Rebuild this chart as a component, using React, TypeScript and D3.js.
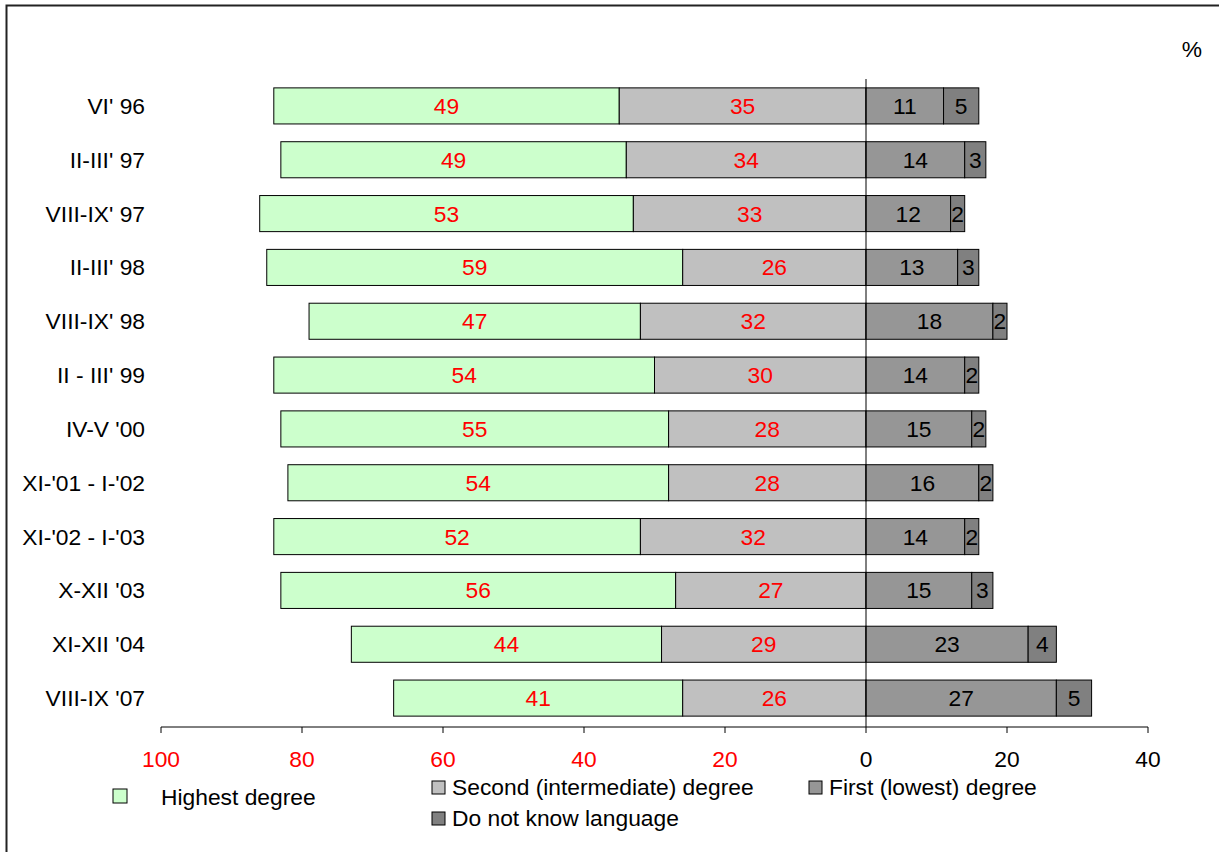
import React from "react";
import * as d3 from "d3";

const categories = [
  "VI' 96",
  "II-III' 97",
  "VIII-IX' 97",
  "II-III' 98",
  "VIII-IX' 98",
  "II - III' 99",
  "IV-V '00",
  "XI-'01 - I-'02",
  "XI-'02 - I-'03",
  "X-XII '03",
  "XI-XII '04",
  "VIII-IX '07",
];
const highest = [49, 49, 53, 59, 47, 54, 55, 54, 52, 56, 44, 41];
const second = [35, 34, 33, 26, 32, 30, 28, 28, 32, 27, 29, 26];
const first = [11, 14, 12, 13, 18, 14, 15, 16, 14, 15, 23, 27];
const dontKnow = [5, 3, 2, 3, 2, 2, 2, 2, 2, 3, 4, 5];
const xTicks = [-100, -80, -60, -40, -20, 0, 20, 40];

const W = 1219;
const H = 852;
const FONT = "'Liberation Sans', Arial, sans-serif";
const FS = 22.8;

const colors = {
  highest: "#CCFFCC",
  second: "#C0C0C0",
  first: "#969696",
  dontKnow: "#808080",
};

export default function App() {
  const x = d3.scaleLinear().domain([-100, 40]).range([161, 1148]);
  const y = d3
    .scaleBand<string>()
    .domain(categories)
    .range([79, 725])
    .paddingInner(0.33)
    .paddingOuter(0.165);
  const bw = y.bandwidth();
  const axisY = 727;

  type Seg = { x0: number; x1: number; fill: string; label: number; color: string };
  const rows = categories.map((c, i) => {
    const segs: Seg[] = [
      { x0: -(highest[i] + second[i]), x1: -second[i], fill: colors.highest, label: highest[i], color: "#FF0000" },
      { x0: -second[i], x1: 0, fill: colors.second, label: second[i], color: "#FF0000" },
      { x0: 0, x1: first[i], fill: colors.first, label: first[i], color: "#000" },
      { x0: first[i], x1: first[i] + dontKnow[i], fill: colors.dontKnow, label: dontKnow[i], color: "#000" },
    ];
    return { c, segs };
  });

  const legend = [
    { label: "Highest degree", fill: colors.highest, sx: 113, sy: 789, size: 14, tx: 161, ty: 805 },
    { label: "Second (intermediate) degree", fill: colors.second, sx: 432, sy: 781, size: 13, tx: 452, ty: 795 },
    { label: "First (lowest) degree", fill: colors.first, sx: 809, sy: 781, size: 13, tx: 829, ty: 795 },
    { label: "Do not know language", fill: colors.dontKnow, sx: 432, sy: 812, size: 13, tx: 452, ty: 826 },
  ];

  return (
    <svg
      width={W}
      height={H}
      style={{ position: "absolute", left: 0, top: 0, background: "#fff" }}
      fontFamily={FONT}
    >
      <rect x={0} y={0} width={W} height={H} fill="#fff" />
      {/* frame */}
      <path d={`M6.5,${H + 5} V5.5 H${W + 5}`} fill="none" stroke="#222" strokeWidth={2} />

      <text x={1192} y={57} fontSize={FS} textAnchor="middle" fill="#000">
        %
      </text>

      {rows.map((r) => {
        const y0 = y(r.c)!;
        return (
          <g key={r.c}>
            <text
              x={145}
              y={y0 + bw / 2}
              dy="0.35em"
              textAnchor="end"
              fontSize={FS}
              fill="#000"
            >
              {r.c}
            </text>
            {r.segs.map((s, j) => (
              <rect
                key={j}
                x={x(s.x0)}
                y={y0}
                width={x(s.x1) - x(s.x0)}
                height={bw}
                fill={s.fill}
                stroke="#000"
                strokeWidth={1}
              />
            ))}
            {r.segs.map((s, j) => (
              <text
                key={"t" + j}
                x={(x(s.x0) + x(s.x1)) / 2}
                y={y0 + bw / 2}
                dy="0.35em"
                textAnchor="middle"
                fontSize={FS}
                fill={s.color}
              >
                {s.label}
              </text>
            ))}
          </g>
        );
      })}

      {/* zero line */}
      <line x1={x(0)} x2={x(0)} y1={79} y2={axisY} stroke="#000" strokeWidth={1} />

      {/* x axis */}
      <line x1={x(-100)} x2={x(40)} y1={axisY} y2={axisY} stroke="#000" strokeWidth={1} />
      {xTicks.map((t) => (
        <g key={t}>
          <line x1={x(t)} x2={x(t)} y1={axisY} y2={axisY + 6} stroke="#000" strokeWidth={1} />
          <text
            x={x(t)}
            y={767}
            textAnchor="middle"
            fontSize={FS}
            fill={t < 0 ? "#FF0000" : "#000"}
          >
            {Math.abs(t)}
          </text>
        </g>
      ))}

      {/* legend */}
      {legend.map((l) => (
        <g key={l.label}>
          <rect x={l.sx} y={l.sy} width={l.size} height={l.size} fill={l.fill} stroke="#000" strokeWidth={1} />
          <text x={l.tx} y={l.ty} fontSize={FS} fill="#000">
            {l.label}
          </text>
        </g>
      ))}
    </svg>
  );
}
